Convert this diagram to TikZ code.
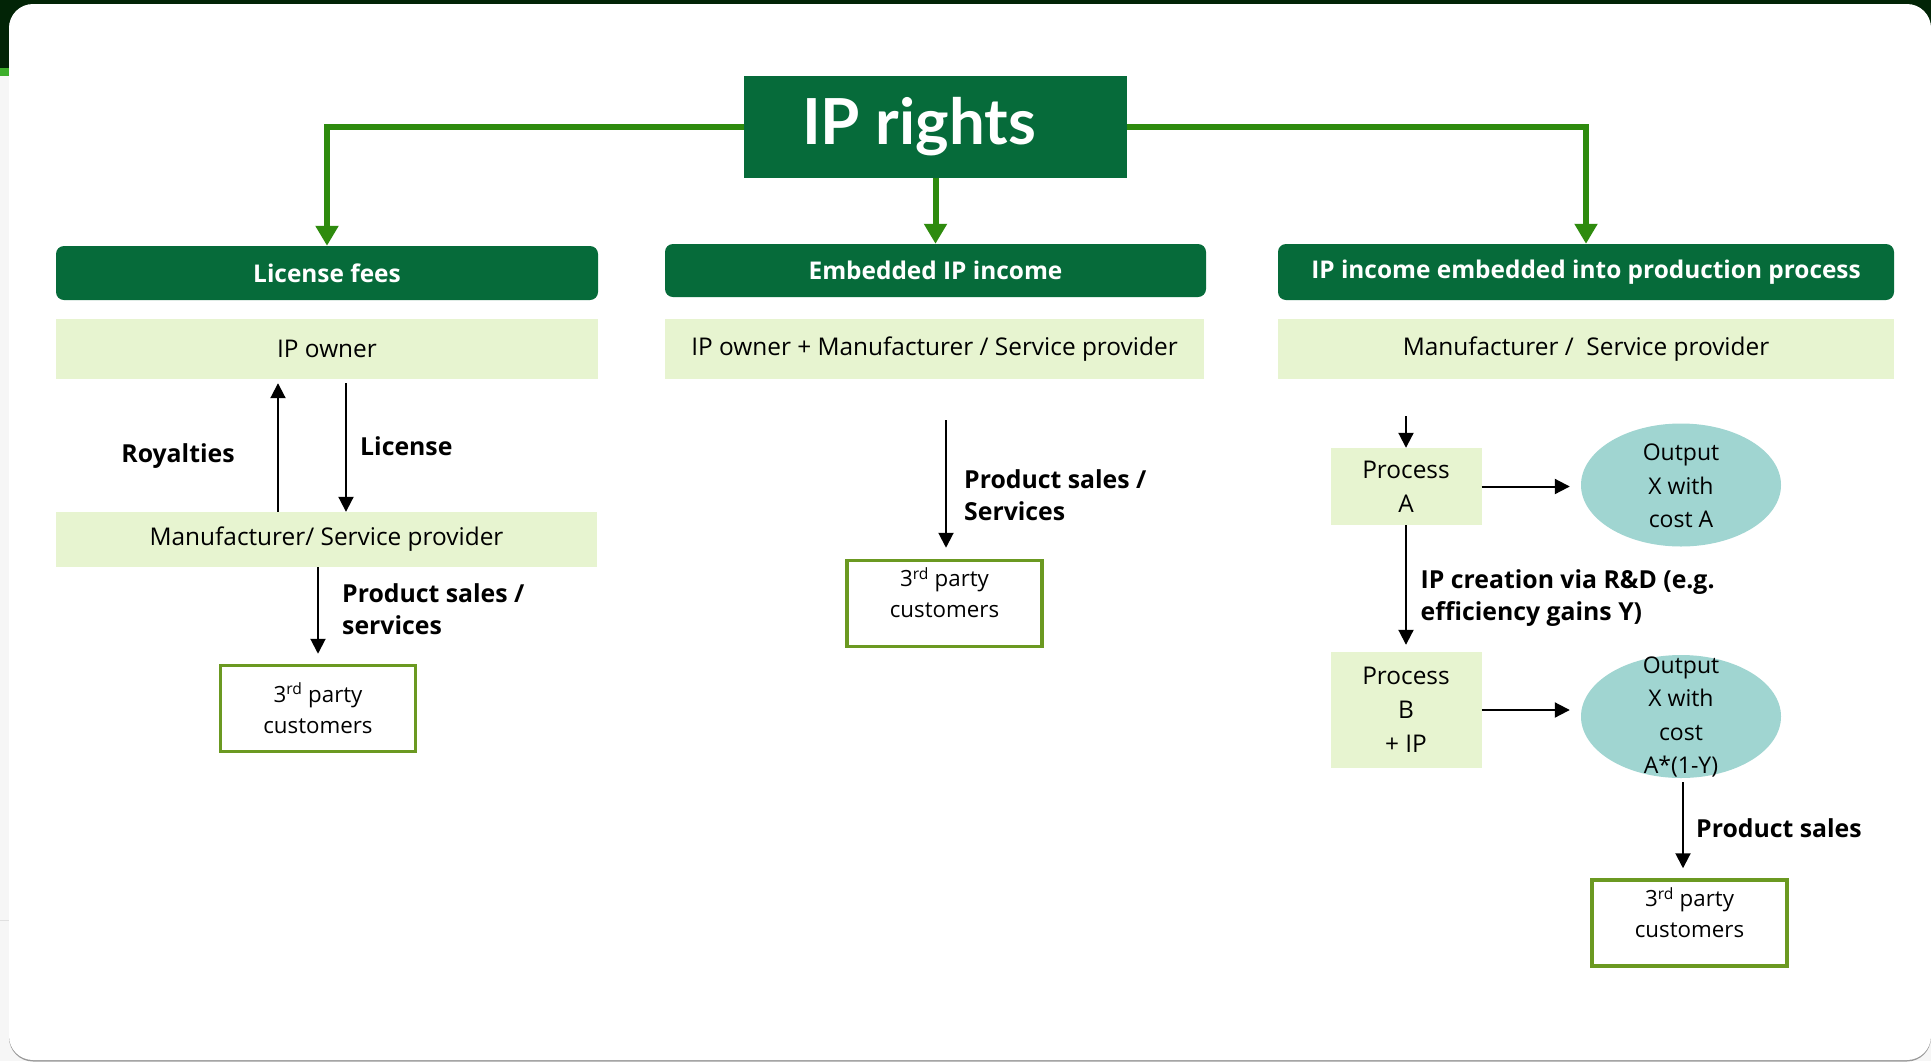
\documentclass[tikz,border=0pt]{standalone}
\usepackage{fontspec}
\setmainfont{Open Sans}
\newfontfamily\titlefont{Lato}
\usetikzlibrary{arrows.meta,shapes.geometric,calc}
\definecolor{dkgreen}{RGB}{6,107,58}
\definecolor{lngreen}{RGB}{46,139,14}
\definecolor{ltgreen}{RGB}{231,244,208}
\definecolor{olivebd}{RGB}{107,153,33}
\definecolor{tealfill}{RGB}{160,213,209}
\definecolor{framedark}{RGB}{2,36,6}
\definecolor{framegreen}{RGB}{61,174,43}
\definecolor{framegray}{RGB}{246,246,246}
\begin{document}
\begin{tikzpicture}[x=1pt,y=-1pt,
 hdr/.style={fill=dkgreen,rounded corners=8pt,text=white,font=\bfseries\fontsize{24.4}{28}\selectfont,inner sep=0pt},
 lg/.style={fill=ltgreen,inner sep=0pt,font=\fontsize{24.4}{34}\selectfont,align=center},
 cbox/.style={draw=olivebd,line width=3.5pt,fill=white,inner sep=0pt,minimum width=195pt,minimum height=86pt},
 ctext/.style={font=\fontsize{22.3}{31}\selectfont,align=center,inner sep=0pt},
 etext/.style={font=\fontsize{23}{33.5}\selectfont,align=center,inner sep=0pt},
 ell/.style={ellipse,fill=tealfill,inner sep=0pt,minimum width=200pt,minimum height=123pt},
 lbl/.style={font=\bfseries\fontsize{24.8}{32}\selectfont,align=left,inner sep=0pt},
 garr/.style={draw=lngreen,line width=6pt,-{Triangle[length=20pt,width=22pt]}},
 arr/.style={draw=black,line width=2pt,-{Triangle[length=15pt,width=15pt]}}
]
\useasboundingbox (0,0) rectangle (1931,1061);
% screenshot frame
\fill[framegray] (0,0) rectangle (1931,1061);
\fill[framedark] (0,0) rectangle (1931,40);
\fill[framedark] (0,0) rectangle (9,68);
\fill[framegreen] (0,68) rectangle (9,76);
\draw[black!12,line width=1pt] (0,920) -- (9,920);
\fill[black!40,rounded corners=24pt] (9,5.5) rectangle (1931,1061.5);
\fill[white,rounded corners=24pt] (9,4) rectangle (1931,1060);

% title
\node[fill=dkgreen,minimum width=383pt,minimum height=102pt,inner sep=0pt,text=white,font=\titlefont\bfseries\fontsize{63.5}{70}\selectfont] (ip) at (935.5,127) {IP rights\kern33pt};

% headers
\node[hdr,minimum width=542pt,minimum height=54pt] (lic) at (327,273) {License fees};
\node[hdr,minimum width=541pt,minimum height=53pt] (emb) at (935.5,270.5) {Embedded IP income};
\node[hdr,minimum width=616pt,minimum height=56pt] (pp) at (1586,272) {IP income embedded into production process};

\draw[garr] (ip.west) -| (lic.north);
\draw[garr] (ip.south) -- (emb.north);
\draw[garr] (ip.east) -| (pp.north);

% left column
\node[lg,minimum width=542pt,minimum height=60pt] (ipo) at (327,349) {IP owner};
\node[lg,minimum width=541pt,minimum height=55pt] (man) at (326.5,539.5) {Manufacturer/ Service provider};
\node[cbox] (c1) at (318,708.5) {};
\node[ctext] (c1t) at (318,708) {3\textsuperscript{rd} party\\customers};
\coordinate (xroy) at (278,0);
\coordinate (xlic) at (346,0);
\draw[arr,shorten >=4pt] (xroy |- man.north) -- (xroy |- ipo.south);
\draw[arr,shorten <=4pt] (xlic |- ipo.south) -- (xlic |- man.north);
\draw[arr,shorten >=10pt] (c1.north |- man.south) -- (c1.north);
\node[lbl,anchor=base] (roy) at (178,462) {Royalties};
\node[lbl,anchor=base west] (licl) at (360,455) {License};
\node[lbl,anchor=base west] (ps1) at (342,634) {Product sales /\\services};

% middle column
\node[lg,minimum width=539pt,minimum height=60pt] (ipm) at (934.5,349) {IP owner + Manufacturer / Service provider};
\coordinate (m0) at (946,420);
\node[cbox] (c2) at (944.5,603.5) {};
\node[ctext] (c2t) at (944.5,592.5) {3\textsuperscript{rd} party\\customers};
\draw[arr,shorten >=11pt] (m0) -- (m0 |- c2.north);
\node[lbl,anchor=base west] (ps2) at (964,520) {Product sales /\\Services};

% right column
\node[lg,minimum width=616pt,minimum height=60pt] (msp) at (1586,349) {Manufacturer /\ \ Service provider};
\coordinate (r0) at (1406,416);
\node[lg,minimum width=151pt,minimum height=77pt] (pa) at (1406,486.5) {Process\\A};
\draw[arr] (r0) -- (pa.north);
\node[ell] (e1) at (1681,485) {};
\node[etext] (e1t) at (1681,486) {Output\\X with\\cost A};
\draw[arr,shorten >=11pt] (pa.east) -- (pa.east -| e1.west);
\node[lg,minimum width=151pt,minimum height=116pt] (pb) at (1406,710) {Process\\B\\+ IP};
\draw[arr,shorten >=7pt] (pa.south) -- (pb.north);
\node[lbl,anchor=base west] (ipc) at (1420.5,620) {IP creation via R\&D (e.g.\\efficiency gains Y)};
\node[ell] (e2) at (1681,716.5) {};
\node[etext] (e2t) at (1681,717) {Output\\X with\\cost\\A*(1-Y)};
\draw[arr,shorten >=11pt] (pb.east) -- (pb.east -| e2.west);
\node[cbox] (c3) at (1689.5,923) {};
\node[ctext] (c3t) at (1689.5,912.5) {3\textsuperscript{rd} party\\customers};
\coordinate (r1) at (1683,782);
\draw[arr,shorten >=10pt] (r1) -- (r1 |- c3.north);
\node[lbl,anchor=base west] (ps3) at (1696,837) {Product sales};
\end{tikzpicture}
\end{document}
